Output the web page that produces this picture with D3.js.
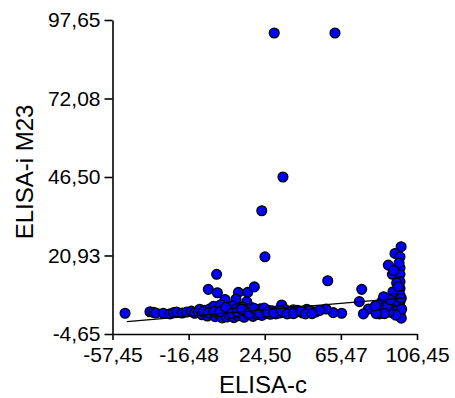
<!DOCTYPE html>
<html>
<head>
<meta charset="utf-8">
<script src="https://cdn.jsdelivr.net/npm/d3@7"></script>
<style>
  html, body { margin: 0; padding: 0; background: #fff; }
  svg { display: block; font-family: "Liberation Sans", Arial, sans-serif; }
</style>
</head>
<body>
<svg id="chart" width="455" height="398"></svg>
<script>
// ---- data ----
const xTicks = [-57.45, -16.48, 24.50, 65.47, 106.45];
const xTickLabels = ["-57,45", "-16,48", "24,50", "65,47", "106,45"];
const yTicks = [-4.65, 20.93, 46.50, 72.08, 97.65];
const yTickLabels = ["-4,65", "20,93", "46,50", "72,08", "97,65"];
const xTitle = "ELISA-c";
const yTitle = "ELISA-i M23";

// ELISA-c values
const elisaC = [
  29.6, 62.3, 34.3, 22.9, 24.6, -1.4, 58.4, -5.9, -1.0, 10.3, 15.3, 18.9, 3.1, 9.0, 14.8, 76.7, 75.4, 91.0,
  -50.7,
  97.9, 94.6, 97.3, 97.3, 93.2, 97.3, 97.3, 97.3, 97.3, 97.3, 97.3, 97.3, 97.3,
  93.5, 93.5, 93.5, 93.5, 87.5, 87.5, 87.5, 86.2, 86.2, 80.3, 77.6,
  65.9, 61.4, 57.5, 50.6, 47.1, 43.5, 39.9, 36.3, 33.6, 29.1, 24.6,
  -37.3, -35.5, -34.0, -30.1, -26.5, -24.5, -22.9, -20.0, -17.5, -15.0, -13.2, -11.3, -9.0, -8.0, -6.5,
  -10.5, -9.2, -7.8, -6.4, -5.0, -4.1, -3.0, -2.2, -1.0, 0.0, 0.8, 1.5, 2.3, 3.2, 4.0, 4.8, 5.6, 6.3, 7.1, 7.9,
  8.6, 9.4, 10.2, 11.0, 11.8, 12.6, 13.4, 14.2, 15.0, 15.8, 16.6, 17.4, 18.2, 19.0, 19.8, 20.6, 21.4, 22.2, 23.0, 23.8,
  25.5, 26.5, 27.5, 28.5, 30.5, 31.5, 32.5, 34.5, 35.5, 37.5, 38.5, 41.0, 42.0, 45.0, 48.5, 52.0, 54.0,
  -8.5, -5.8, -2.8, 0.4, 3.6, 6.8, 9.8, 12.0, 16.2, 18.8, 21.8, 24.2, 26.0, 29.5, 33.5, 36.5, 40.0, 44.0, 46.5, 50.0,
  95.5, 95.5, 96.0, 98.0, 98.2, 98.0, 96.5, 95.0, 91.5, 90.5, 89.0, 92.0, 84.5, 84.0, 88.5, 96.8, 94.0
];
// ELISA-i M23 values
const elisaI = [
  93.4, 93.4, 46.5, 35.5, 20.5, 14.8, 12.7, 9.9, 8.8, 8.9, 8.9, 10.7, 6.6, 6.7, 5.9, 9.9, 5.9, 17.8,
  2.1,
  23.8, 21.6, 20.5, 16.9, 14.8, 14.8, 12.4, 10.2, 8.0, 5.9, 4.2, 2.1, 1.0,
  9.1, 7.0, 4.8, 2.2, 5.9, 3.7, 2.1, 3.2, 1.9, 3.5, 1.9,
  2.1, 2.3, 3.5, 2.6, 3.4, 2.6, 3.2, 2.6, 4.8, 2.6, 3.2,
  2.6, 2.4, 2.2, 2.1, 1.9, 2.3, 2.5, 2.2, 2.5, 2.8, 2.1, 2.5, 3.0, 1.8, 2.4,
  3.4, 1.6, 3.1, 1.2, 3.6, 2.0, 4.4, 1.0, 3.0, 1.8, 4.9, 0.6, 3.3, 2.2, 0.9, 3.8, 1.5, 2.8, 4.5, 0.7,
  2.4, 3.6, 1.3, 3.0, 2.0, 4.1, 0.8, 2.7, 3.5, 1.6, 2.9, 4.0, 1.1, 2.5, 3.3, 1.7, 2.8, 3.6, 1.4, 2.6,
  2.0, 3.1, 1.8, 2.9, 1.9, 3.0, 2.2, 2.4, 3.3, 2.1, 2.8, 2.4, 3.1, 2.2, 3.0, 2.5, 3.0,
  2.6, 2.3, 2.7, 2.6, 4.0, 2.1, 2.5, 3.4, 2.2, 3.7, 2.2, 3.8, 2.5, 2.3, 2.9, 1.9, 2.0, 2.8, 1.9, 2.0,
  12.0, 3.0, 6.0, 7.0, 3.4, 0.5, 10.8, 1.5, 2.5, 4.5, 2.0, 6.5, 2.0, 4.5, 7.5, 18.5, 16.0
];
// regression line end points
const fitX = [-49.7, 100.0];
const fitY = [-0.6, 7.1];

// ---- chart ----
const svg = d3.select("#chart");
const x = d3.scaleLinear().domain([xTicks[0], xTicks[xTicks.length - 1]]).range([112.5, 417]);
const y = d3.scaleLinear().domain([yTicks[0], yTicks[yTicks.length - 1]]).range([334, 20]);

const fontTick = 21;

// points
const pts = elisaC.map((c, i) => ({ c, v: elisaI[i] }));
svg.append("g").selectAll("circle").data(pts).join("circle")
  .attr("cx", d => x(d.c))
  .attr("cy", d => y(d.v))
  .attr("r", 4.9)
  .attr("fill", "#0000ff")
  .attr("stroke", "#000")
  .attr("stroke-width", 1.3);

// fit line
svg.append("path")
  .datum(fitX.map((c, i) => [c, fitY[i]]))
  .attr("d", d3.line().x(d => x(d[0])).y(d => y(d[1])))
  .attr("stroke", "#000").attr("stroke-width", 1.2).attr("fill", "none");

// axes
const yAxis = d3.axisLeft(y).tickValues(yTicks)
  .tickFormat((d, i) => yTickLabels[i]).tickSize(8).tickSizeOuter(0).tickPadding(4);
const gy = svg.append("g").attr("transform", `translate(${x.range()[0]},0)`).call(yAxis);
const xAxis = d3.axisBottom(x).tickValues(xTicks)
  .tickFormat((d, i) => xTickLabels[i]).tickSize(6).tickSizeOuter(0).tickPadding(7);
const gx = svg.append("g").attr("transform", `translate(0,${y.range()[0]})`).call(xAxis);

[gx, gy].forEach(g => {
  g.select(".domain").attr("stroke", "#000").attr("stroke-width", 1.6);
  g.selectAll(".tick line").attr("stroke", "#000").attr("stroke-width", 1.6);
  g.selectAll(".tick text").attr("fill", "#000")
    .attr("font-family", "'Liberation Sans', Arial, sans-serif")
    .attr("font-size", fontTick);
});

// titles
svg.append("text").attr("x", 263).attr("y", 393)
  .attr("text-anchor", "middle").attr("font-size", 24).attr("fill", "#000")
  .text(xTitle);
svg.append("text").attr("transform", "translate(33,172) rotate(-90)")
  .attr("text-anchor", "middle").attr("font-size", 24).attr("fill", "#000")
  .text(yTitle);
</script>
</body>
</html>
